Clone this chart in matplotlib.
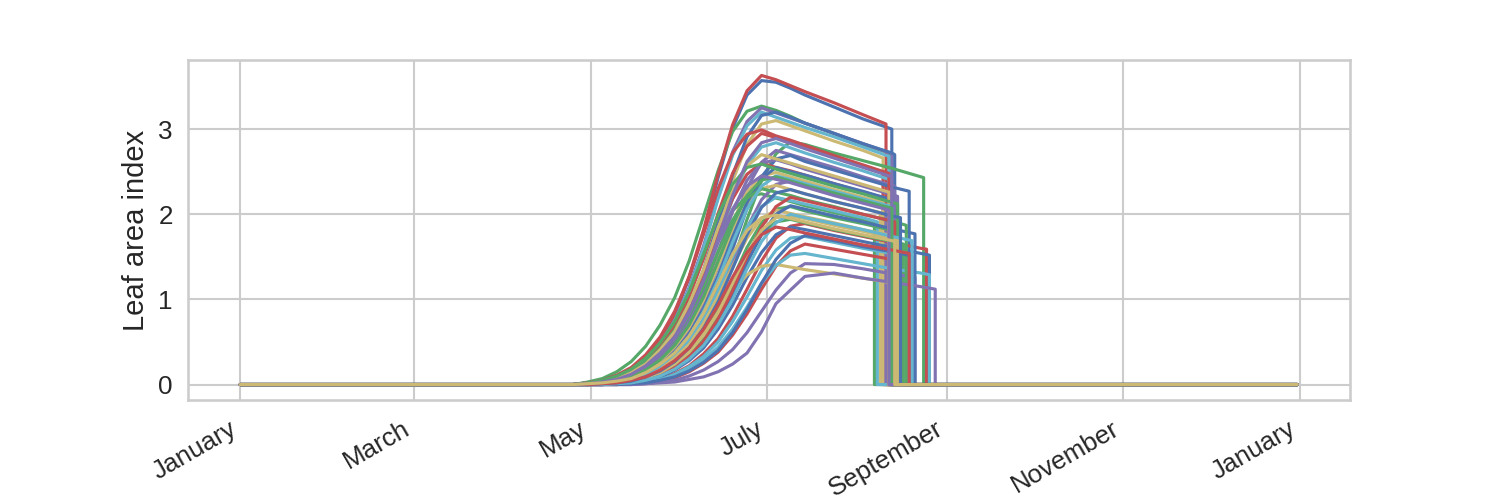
import matplotlib
matplotlib.use('Agg')
import matplotlib.pyplot as plt
import matplotlib.dates as mdates
from matplotlib.ticker import MultipleLocator
import seaborn as sns
import pandas as pd

grid_days = [115, 120, 125, 130, 135, 140, 145, 150, 155, 160,
             165, 170, 175, 180, 185, 190, 195, 205, 215, 225, 235]

# one row per simulated field, values at grid_days (until harvest)
lai_values = [
    [0.00, 0.02, 0.04, 0.09, 0.18, 0.32, 0.54, 0.82, 1.25, 1.79, 2.43, 3.01, 3.40, 3.57, 3.55, 3.48, 3.40, 3.26, 3.12],
    [0.00, 0.03, 0.07, 0.15, 0.27, 0.45, 0.70, 1.02, 1.45, 1.98, 2.51, 2.97, 3.21, 3.27, 3.22, 3.15, 3.07, 2.95, 2.82],
    [0.00, 0.02, 0.04, 0.09, 0.18, 0.33, 0.54, 0.83, 1.27, 1.82, 2.47, 3.05, 3.45, 3.63, 3.58, 3.51, 3.44, 3.31, 3.17],
    [0.00, 0.02, 0.04, 0.08, 0.16, 0.29, 0.49, 0.75, 1.14, 1.63, 2.21, 2.73, 3.09, 3.25, 3.19, 3.13, 3.07, 2.95, 2.83],
    [0.00, 0.01, 0.02, 0.06, 0.12, 0.21, 0.37, 0.58, 0.89, 1.31, 1.84, 2.39, 2.82, 3.06, 3.10, 3.04, 2.98, 2.86, 2.75],
    [0.00, 0.02, 0.04, 0.08, 0.16, 0.29, 0.48, 0.74, 1.12, 1.60, 2.18, 2.69, 3.04, 3.20, 3.14, 3.08, 3.02, 2.91, 2.79],
    [0.00, 0.01, 0.03, 0.06, 0.12, 0.22, 0.38, 0.60, 0.92, 1.35, 1.90, 2.46, 2.91, 3.16, 3.20, 3.14, 3.07, 2.95, 2.83, 2.72],
    [0.00, 0.00, 0.01, 0.01, 0.03, 0.07, 0.14, 0.26, 0.43, 0.66, 1.00, 1.43, 1.94, 2.39, 2.71, 2.85, 2.82, 2.72, 2.63, 2.54, 2.44],
    [0.00, 0.01, 0.04, 0.08, 0.15, 0.27, 0.44, 0.68, 1.03, 1.48, 2.01, 2.48, 2.80, 2.95, 2.90, 2.85, 2.79, 2.68, 2.57],
    [0.00, 0.01, 0.01, 0.03, 0.07, 0.14, 0.25, 0.41, 0.63, 0.96, 1.38, 1.87, 2.31, 2.61, 2.75, 2.70, 2.65, 2.55, 2.44, 2.34],
    [0.00, 0.01, 0.02, 0.05, 0.09, 0.17, 0.30, 0.47, 0.71, 1.05, 1.48, 1.91, 2.26, 2.45, 2.49, 2.44, 2.39, 2.29, 2.20],
    [0.00, 0.01, 0.02, 0.05, 0.11, 0.19, 0.34, 0.53, 0.81, 1.20, 1.68, 2.18, 2.58, 2.79, 2.84, 2.78, 2.72, 2.61, 2.51],
    [0.00, 0.00, 0.01, 0.02, 0.05, 0.10, 0.18, 0.32, 0.50, 0.77, 1.13, 1.59, 2.07, 2.44, 2.65, 2.69, 2.62, 2.52, 2.42, 2.32],
    [0.00, 0.02, 0.04, 0.08, 0.15, 0.27, 0.42, 0.64, 0.95, 1.33, 1.72, 2.04, 2.21, 2.24, 2.19, 2.15, 2.10, 2.02, 1.94],
    [0.00, 0.01, 0.03, 0.07, 0.13, 0.23, 0.39, 0.60, 0.91, 1.30, 1.77, 2.18, 2.47, 2.60, 2.55, 2.51, 2.46, 2.36, 2.26],
    [0.00, 0.00, 0.01, 0.02, 0.04, 0.09, 0.16, 0.28, 0.45, 0.68, 1.01, 1.42, 1.84, 2.17, 2.35, 2.39, 2.33, 2.24, 2.16],
    [0.00, 0.01, 0.02, 0.04, 0.09, 0.16, 0.28, 0.44, 0.67, 0.99, 1.39, 1.80, 2.13, 2.30, 2.34, 2.29, 2.24, 2.15, 2.07],
    [0.00, 0.00, 0.01, 0.03, 0.06, 0.11, 0.20, 0.33, 0.51, 0.77, 1.10, 1.50, 1.85, 2.09, 2.20, 2.16, 2.12, 2.04, 1.96],
    [0.00, 0.01, 0.01, 0.03, 0.07, 0.13, 0.23, 0.38, 0.59, 0.89, 1.28, 1.73, 2.14, 2.42, 2.55, 2.50, 2.46, 2.36, 2.27],
    [0.00, 0.00, 0.01, 0.02, 0.04, 0.08, 0.14, 0.25, 0.39, 0.60, 0.88, 1.24, 1.61, 1.90, 2.06, 2.09, 2.04, 1.96, 1.89],
    [0.00, 0.00, 0.00, 0.01, 0.02, 0.03, 0.07, 0.13, 0.22, 0.36, 0.54, 0.80, 1.12, 1.45, 1.72, 1.86, 1.89, 1.81, 1.74, 1.67, 1.60],
    [0.00, 0.01, 0.02, 0.05, 0.10, 0.18, 0.31, 0.50, 0.76, 1.11, 1.56, 2.03, 2.40, 2.60, 2.64, 2.59, 2.53, 2.43, 2.33, 2.23],
    [0.00, 0.00, 0.01, 0.02, 0.05, 0.10, 0.18, 0.31, 0.47, 0.72, 1.03, 1.39, 1.72, 1.95, 2.05, 2.01, 1.97, 1.90, 1.82, 1.75],
    [0.00, 0.00, 0.00, 0.01, 0.01, 0.03, 0.06, 0.12, 0.21, 0.33, 0.50, 0.74, 1.03, 1.34, 1.58, 1.72, 1.74, 1.67, 1.60, 1.54],
    [0.00, 0.00, 0.00, 0.01, 0.02, 0.05, 0.09, 0.17, 0.28, 0.43, 0.65, 0.93, 1.26, 1.55, 1.76, 1.85, 1.82, 1.75, 1.68, 1.61, 1.54],
    [0.00, 0.00, 0.01, 0.02, 0.04, 0.07, 0.13, 0.23, 0.36, 0.56, 0.82, 1.15, 1.49, 1.76, 1.91, 1.94, 1.90, 1.82, 1.75, 1.68],
    [0.00, 0.00, 0.00, 0.00, 0.01, 0.02, 0.04, 0.08, 0.15, 0.25, 0.38, 0.58, 0.83, 1.12, 1.39, 1.57, 1.65, 1.59, 1.53, 1.47],
    [0.00, 0.00, 0.00, 0.00, 0.00, 0.01, 0.03, 0.05, 0.10, 0.17, 0.27, 0.41, 0.61, 0.86, 1.11, 1.31, 1.42, 1.41, 1.36, 1.30],
    [0.00, 0.00, 0.01, 0.03, 0.05, 0.10, 0.17, 0.27, 0.40, 0.60, 0.84, 1.09, 1.29, 1.39, 1.41, 1.38, 1.35, 1.30, 1.25],
    [0.00, 0.00, 0.00, 0.00, 0.01, 0.03, 0.06, 0.11, 0.18, 0.29, 0.44, 0.65, 0.91, 1.19, 1.40, 1.52, 1.54, 1.48, 1.42, 1.36, 1.31],
    [0.00, 0.00, 0.00, 0.01, 0.03, 0.05, 0.11, 0.19, 0.32, 0.48, 0.74, 1.05, 1.43, 1.76, 2.00, 2.10, 2.06, 1.98, 1.91, 1.83],
    [0.00, 0.01, 0.03, 0.06, 0.12, 0.21, 0.35, 0.53, 0.81, 1.15, 1.56, 1.93, 2.19, 2.30, 2.26, 2.22, 2.17, 2.09, 2.00, 1.92],
    [0.00, 0.02, 0.05, 0.11, 0.20, 0.35, 0.56, 0.86, 1.26, 1.77, 2.30, 2.72, 2.94, 2.99, 2.92, 2.87, 2.81, 2.69, 2.58],
    [0.00, 0.00, 0.00, 0.00, 0.00, 0.01, 0.02, 0.03, 0.06, 0.09, 0.15, 0.24, 0.37, 0.62, 0.95, 1.11, 1.27, 1.31, 1.25, 1.20, 1.15],
    [0.00, 0.01, 0.03, 0.07, 0.14, 0.24, 0.41, 0.62, 0.95, 1.35, 1.84, 2.27, 2.57, 2.70, 2.65, 2.60, 2.55, 2.45, 2.35],
    [0.00, 0.00, 0.01, 0.03, 0.06, 0.12, 0.22, 0.37, 0.56, 0.86, 1.23, 1.67, 2.06, 2.33, 2.45, 2.41, 2.36, 2.27, 2.18],
    [0.00, 0.00, 0.00, 0.00, 0.01, 0.02, 0.05, 0.09, 0.16, 0.26, 0.40, 0.61, 0.88, 1.19, 1.47, 1.66, 1.75, 1.69, 1.62, 1.56],
    [0.00, 0.02, 0.05, 0.10, 0.18, 0.31, 0.49, 0.74, 1.09, 1.53, 1.99, 2.35, 2.55, 2.59, 2.53, 2.48, 2.43, 2.33, 2.24, 2.14],
    [0.00, 0.00, 0.00, 0.01, 0.03, 0.06, 0.11, 0.20, 0.33, 0.51, 0.77, 1.10, 1.50, 1.85, 2.09, 2.20, 2.16, 2.08, 2.00, 1.92],
    [0.00, 0.01, 0.02, 0.05, 0.11, 0.20, 0.34, 0.54, 0.83, 1.22, 1.71, 2.22, 2.62, 2.84, 2.89, 2.83, 2.77, 2.66, 2.55],
    [0.00, 0.00, 0.01, 0.02, 0.04, 0.08, 0.14, 0.24, 0.38, 0.58, 0.85, 1.19, 1.54, 1.81, 1.96, 1.98, 1.95, 1.87, 1.80, 1.72],
    [0.00, 0.00, 0.00, 0.01, 0.02, 0.05, 0.10, 0.18, 0.30, 0.46, 0.70, 1.00, 1.36, 1.68, 1.90, 2.00, 1.96, 1.89, 1.82, 1.74],
    [0.00, 0.00, 0.01, 0.02, 0.04, 0.09, 0.16, 0.27, 0.43, 0.66, 0.97, 1.36, 1.76, 2.08, 2.25, 2.29, 2.24, 2.15, 2.07, 1.98],
    [0.00, 0.01, 0.02, 0.04, 0.09, 0.17, 0.29, 0.46, 0.70, 1.03, 1.45, 1.87, 2.22, 2.40, 2.44, 2.39, 2.34, 2.25, 2.16],
    [0.00, 0.00, 0.01, 0.02, 0.05, 0.09, 0.17, 0.28, 0.43, 0.65, 0.93, 1.26, 1.55, 1.76, 1.85, 1.82, 1.78, 1.71, 1.64, 1.58],
    [0.00, 0.01, 0.03, 0.06, 0.12, 0.22, 0.37, 0.56, 0.86, 1.23, 1.67, 2.06, 2.33, 2.45, 2.41, 2.37, 2.32, 2.22, 2.13],
    [0.00, 0.01, 0.02, 0.04, 0.07, 0.14, 0.24, 0.37, 0.57, 0.84, 1.18, 1.53, 1.81, 1.96, 1.99, 1.95, 1.91, 1.83, 1.76, 1.69],
]

# harvest day (day of year) and LAI just before the crop is cut
harvest_days = [225, 224, 223, 225, 222, 224, 226, 236, 222, 226, 222, 224, 231, 219,
                224, 223, 221, 220, 225, 224, 237, 227, 226, 230, 238, 229, 228, 233,
                224, 238, 233, 230, 224, 240, 224, 225, 232, 227, 226, 225, 227,
                232, 228, 225, 231, 224, 226]
harvest_lai = [3.00, 2.72, 3.06, 2.71, 2.66, 2.68, 2.70, 2.43, 2.49, 2.33, 2.14, 2.41, 2.27, 1.90,
               2.18, 2.09, 2.02, 1.91, 2.17, 1.82, 1.59, 2.21, 1.74, 1.51, 1.52, 1.65, 1.45, 1.26,
               1.20, 1.29, 1.77, 1.87, 2.48, 1.12, 2.26, 2.09, 1.51, 2.12, 1.91, 2.44, 1.70,
               1.69, 1.96, 2.07, 1.54, 2.05, 1.68]

year_start = '2016-01-01'
year_end = '2016-12-31'

# old seaborn "deep" palette
palette = ['#4C72B0', '#55A868', '#C44E52', '#8172B2', '#CCB974', '#64B5CD']

sns.set_theme(style='whitegrid', context='notebook')
plt.rcParams['font.family'] = ['Liberation Sans', 'DejaVu Sans']
plt.rcParams['xtick.labelsize'] = 12.5
plt.rcParams['ytick.labelsize'] = 12.5
plt.rcParams['xtick.major.size'] = 0
plt.rcParams['ytick.major.size'] = 0
plt.rcParams['xtick.major.pad'] = 8
plt.rcParams['ytick.major.pad'] = 7

fig, ax = plt.subplots(figsize=(10, 10 / 3), dpi=150)
ax.set_prop_cycle(color=palette)

t0 = pd.Timestamp(year_start)
for vals, hday, hlai in zip(lai_values, harvest_days, harvest_lai):
    days = [d for d in grid_days[:len(vals)] if d < hday]
    x = [t0] + [t0 + pd.Timedelta(days=d) for d in days]
    x += [t0 + pd.Timedelta(days=hday)] * 2 + [pd.Timestamp(year_end)]
    y = [0.0] + vals[:len(days)] + [hlai, 0.0, 0.0]
    ax.plot([v.to_pydatetime() for v in x], y, lw=1.5)

ax.xaxis.set_major_locator(mdates.MonthLocator(bymonth=[1, 3, 5, 7, 9, 11]))
ax.xaxis.set_major_formatter(mdates.DateFormatter('%B'))
ax.yaxis.set_major_locator(MultipleLocator(1))
ax.set_ylabel('Leaf area index', fontsize=14)

fig.autofmt_xdate()
fig.savefig('out.png', dpi=150)
